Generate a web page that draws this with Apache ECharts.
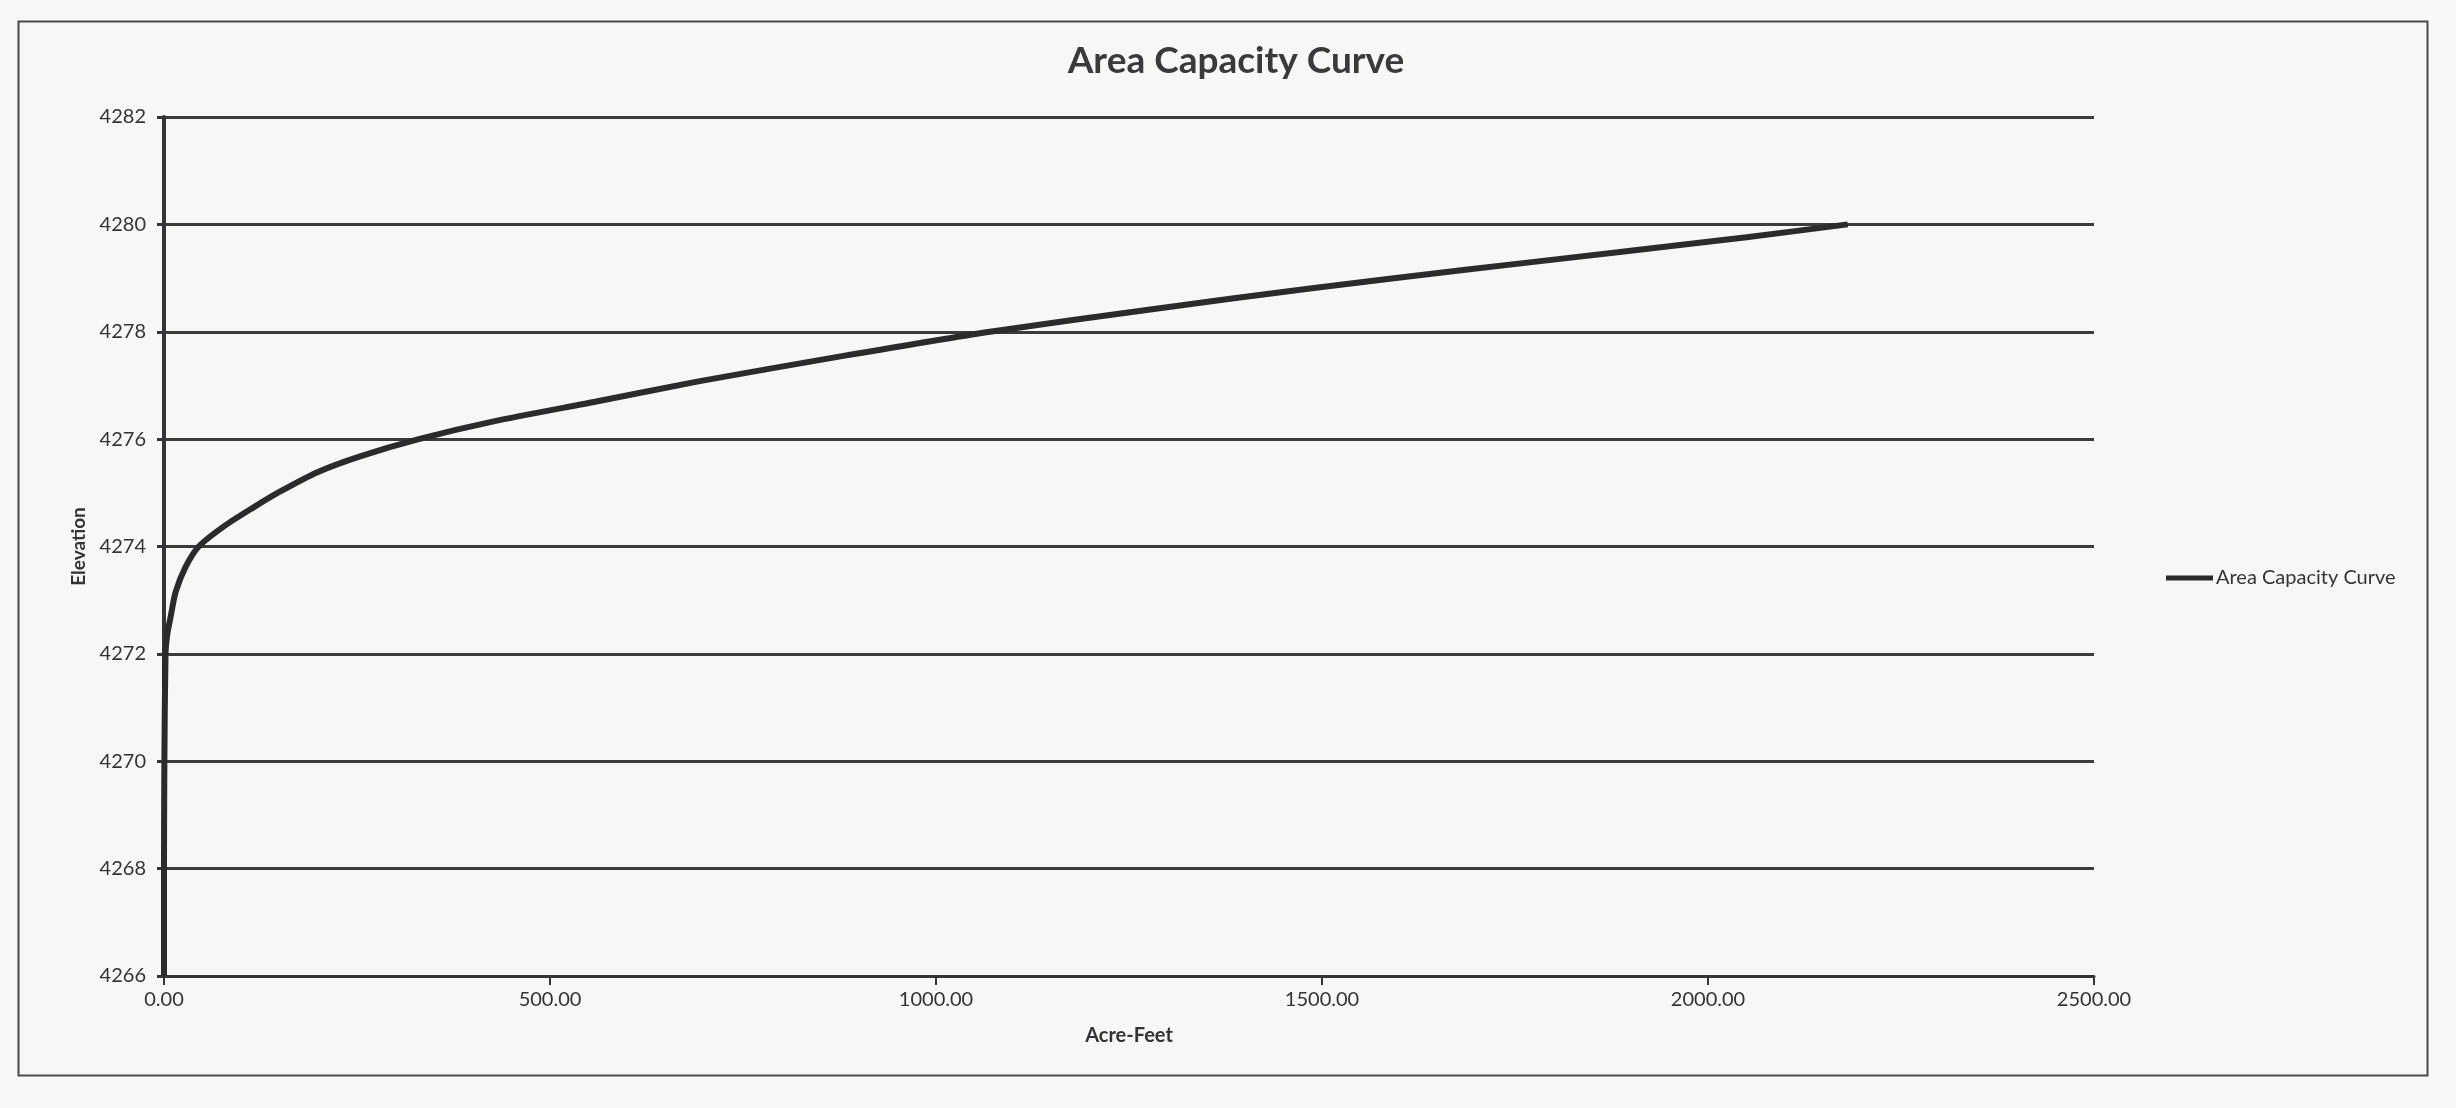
<!DOCTYPE html>
<html>
<head>
<meta charset="utf-8">
<title>Area Capacity Curve</title>
<script src="https://cdn.jsdelivr.net/npm/echarts@6/dist/echarts.min.js"></script>
<style>
    html, body {
        margin: 0;
        padding: 0;
        background: #f7f7f6;
    }
    #chart {
        width: 2456px;
        height: 1108px;
    }
</style>
</head>
<body>
<div id="chart"></div>
<script>
// values (acre-feet vs elevation)
const capacity = [0, 0, 0.5, 2, 4.3, 8.7, 15, 28, 45, 78, 115, 150, 198, 254, 330, 427, 560, 694, 880, 1070, 1280, 1487, 1683, 1883, 2050, 2181]
const elevation = [4266, 4268, 4270, 4272, 4272.37, 4272.7, 4273.15, 4273.62, 4274, 4274.38, 4274.72, 4275.02, 4275.38, 4275.68, 4276, 4276.33, 4276.7, 4277.08, 4277.55, 4278, 4278.42, 4278.81, 4279.15, 4279.48, 4279.76, 4280]

const seriesName = "Area Capacity Curve"
const xTicks = [0, 500, 1000, 1500, 2000, 2500]
const yTicks = [4266, 4268, 4270, 4272, 4274, 4276, 4278, 4280, 4282]

const font = "Lato, 'Open Sans', sans-serif"
const ink = "#343434"

const points = capacity.map((c, i) => [c, elevation[i]])

const chart = echarts.init(document.querySelector("#chart"), null, { renderer: "canvas" })

const option = {
    backgroundColor: "#f7f7f6",
    animation: false,
    title: {
        text: "Area Capacity Curve",
        left: 1231,
        top: 38,
        textAlign: "center",
        textStyle: {
            fontFamily: font,
            fontSize: 37,
            fontWeight: "bold",
            color: "#3a3a3a",
        },
    },
    legend: {
        data: [seriesName],
        left: 2161,
        top: 563,
        icon: "rect",
        itemWidth: 47,
        itemHeight: 5,
        textStyle: {
            fontFamily: font,
            fontSize: 20,
            color: ink,
            padding: [0, 0, 0, -2],
        },
    },
    grid: {
        left: 164,
        right: 362,
        top: 117,
        bottom: 132,
        containLabel: false,
    },
    xAxis: {
        type: "value",
        min: xTicks[0],
        max: xTicks[xTicks.length - 1],
        interval: 500,
        name: "Acre-Feet",
        nameLocation: "middle",
        nameGap: 50,
        nameTextStyle: {
            fontFamily: font,
            fontSize: 20,
            fontWeight: "bold",
            color: ink,
        },
        axisLine: { show: true, lineStyle: { color: ink, width: 3 } },
        axisTick: { show: true, length: 9, lineStyle: { color: ink, width: 2 } },
        axisLabel: {
            margin: 14,
            fontFamily: font,
            fontSize: 20,
            color: ink,
            formatter: (v) => v.toFixed(2),
        },
        splitLine: { show: false },
    },
    yAxis: {
        type: "value",
        min: yTicks[0],
        max: yTicks[yTicks.length - 1],
        interval: 2,
        name: "Elevation",
        nameLocation: "middle",
        nameGap: 76,
        nameRotate: 90,
        nameTextStyle: {
            fontFamily: font,
            fontSize: 19,
            fontWeight: "bold",
            color: ink,
        },
        axisLine: { show: true, lineStyle: { color: ink, width: 4 } },
        axisTick: { show: true, length: 7, lineStyle: { color: ink, width: 3 } },
        axisLabel: {
            margin: 18,
            fontFamily: font,
            fontSize: 20,
            color: ink,
            formatter: (v) => String(v),
        },
        splitLine: { show: true, lineStyle: { color: "#3c3c3c", width: 3 } },
    },
    graphic: [
        {
            type: "rect",
            left: 16,
            top: 19,
            shape: { width: 2409, height: 1054 },
            style: { fill: "none", stroke: "#4a4a4a", lineWidth: 2 },
            silent: true,
        },
    ],
    series: [
        {
            name: seriesName,
            type: "line",
            data: points,
            smooth: 0.25,
            symbol: "none",
            showSymbol: false,
            z: 5,
            lineStyle: { color: "#2b2b2b", width: 6 },
            itemStyle: { color: "#2b2b2b" },
        },
    ],
}

chart.setOption(option)
</script>
</body>
</html>
